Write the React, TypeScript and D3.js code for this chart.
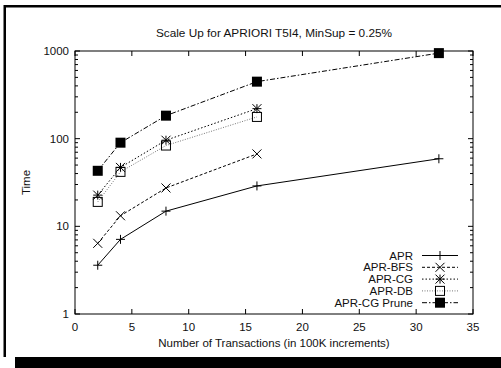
import React from 'react';
import * as d3 from 'd3';

const width = 501;
const height = 368;
const margin = { top: 51, right: 28, bottom: 54, left: 75 };

// x positions (100K transactions)
const transactions = [2, 4, 8, 16, 32];

// series values
const apr = [3.6, 7.1, 14.9, 28.9, 59];
const aprBfs = [6.4, 13.2, 27.4, 67];
const aprCg = [22.7, 47, 96, 220];
const aprDb = [19, 41.8, 83.5, 177];
const aprCgPrune = [43, 90, 183, 447, 946];

const seriesNames = ['APR', 'APR-BFS', 'APR-CG', 'APR-DB', 'APR-CG Prune'];
const xTicks = [0, 5, 10, 15, 20, 25, 30, 35];
const yTicks = [1, 10, 100, 1000];

const font = '"Liberation Sans", Arial, Helvetica, sans-serif';

const series = [
	{ name: seriesNames[0], values: apr, dash: null, color: '#000', marker: 'plus' },
	{ name: seriesNames[1], values: aprBfs, dash: '3,2', color: '#000', marker: 'cross' },
	{ name: seriesNames[2], values: aprCg, dash: '1.5,2', color: '#000', marker: 'star' },
	{ name: seriesNames[3], values: aprDb, dash: '1,1.5', color: '#777', marker: 'box' },
	{ name: seriesNames[4], values: aprCgPrune, dash: '5,2,1.5,2', color: '#000', marker: 'fbox' }
];

const xScale = d3
	.scaleLinear()
	.domain([0, 35])
	.range([margin.left, width - margin.right]);

const yScale = d3
	.scaleLog()
	.domain([1, 1000])
	.range([height - margin.bottom, margin.top]);

function Marker({ type, x, y }) {
	const s = 4.5;
	if (type === 'plus') {
		return <path d={`M${x - s},${y}H${x + s}M${x},${y - s}V${y + s}`} stroke="#000" strokeWidth={1} />;
	}
	if (type === 'cross') {
		return <path d={`M${x - s},${y - s}L${x + s},${y + s}M${x - s},${y + s}L${x + s},${y - s}`} stroke="#000" strokeWidth={1} />;
	}
	if (type === 'star') {
		return (
			<path
				d={`M${x - s},${y}H${x + s}M${x},${y - s}V${y + s}M${x - s},${y - s}L${x + s},${y + s}M${x - s},${y + s}L${x + s},${y - s}`}
				stroke="#000"
				strokeWidth={1}
			/>
		);
	}
	if (type === 'box') {
		return <rect x={x - s} y={y - s} width={2 * s} height={2 * s} fill="none" stroke="#000" strokeWidth={1} />;
	}
	return <rect x={x - 5} y={y - 5} width={10} height={10} fill="#000" />;
}

export default function App() {
	const [y0, y1] = yScale.range();
	const [x0, x1] = xScale.range();

	const line = d3
		.line()
		.x(d => xScale(d[0]))
		.y(d => yScale(d[1]));

	const minorTicks = [];
	[1, 10, 100].forEach(base => {
		for (let i = 2; i <= 9; i++) minorTicks.push(base * i);
	});

	const legendX = 413;
	const legendY0 = 255.5;
	const legendStep = 11.8;

	return (
		<svg
			width={width}
			height={height}
			style={{ position: 'absolute', left: 0, top: 0, background: '#fff' }}
			fontFamily={font}
			fill="#000"
		>
			{/* outer frame with shadow */}
			<path d={`M4.75,357V6.25H${width}`} fill="none" stroke="#000" strokeWidth={2.5} />
			<rect x={15} y={357} width={width - 15} height={11} fill="#000" />

			<text x={(x0 + x1) / 2} y={37} fontSize={11.8} textAnchor="middle" fill="#111">
				Scale Up for APRIORI T5I4, MinSup = 0.25%
			</text>

			{/* ticks */}
			{xTicks.map(t => (
				<g key={'x' + t}>
					<line x1={xScale(t)} x2={xScale(t)} y1={y0} y2={y0 - 5} stroke="#000" />
					<line x1={xScale(t)} x2={xScale(t)} y1={y1} y2={y1 + 5} stroke="#000" />
					<text x={xScale(t)} y={331} fontSize={11.5} textAnchor="middle" fill="#111">
						{t}
					</text>
				</g>
			))}
			{yTicks.map(t => (
				<g key={'y' + t}>
					<line x1={x0} x2={x0 + 5} y1={yScale(t)} y2={yScale(t)} stroke="#000" />
					<line x1={x1} x2={x1 - 5} y1={yScale(t)} y2={yScale(t)} stroke="#000" />
					<text x={69} y={yScale(t) + 4} fontSize={11.5} textAnchor="end" fill="#111">
						{t}
					</text>
				</g>
			))}
			{minorTicks.map(t => (
				<g key={'m' + t}>
					<line x1={x0} x2={x0 + 3} y1={yScale(t)} y2={yScale(t)} stroke="#000" />
					<line x1={x1} x2={x1 - 3} y1={yScale(t)} y2={yScale(t)} stroke="#000" />
				</g>
			))}

			<rect x={x0} y={y1} width={x1 - x0} height={y0 - y1} fill="none" stroke="#000" strokeWidth={1} />

			<text
				transform={`translate(30,${(y0 + y1) / 2}) rotate(-90)`}
				fontSize={11.5}
				textAnchor="middle"
				fill="#111"
			>
				Time
			</text>
			<text x={(x0 + x1) / 2} y={347} fontSize={11.5} textAnchor="middle" fill="#111">
				Number of Transactions (in 100K increments)
			</text>

			{/* series */}
			{series.map(s => {
				const pts = s.values.map((v, i) => [transactions[i], v]);
				return (
					<g key={s.name}>
						<path d={line(pts)} fill="none" stroke={s.color} strokeWidth={1} strokeDasharray={s.dash || undefined} />
						{pts.map((p, i) => (
							<Marker key={i} type={s.marker} x={xScale(p[0])} y={yScale(p[1])} />
						))}
					</g>
				);
			})}

			{/* legend */}
			{series.map((s, i) => {
				const ly = legendY0 + i * legendStep;
				return (
					<g key={'l' + s.name}>
						<text x={legendX} y={ly + 4} fontSize={11.5} textAnchor="end" fill="#111">
							{s.name}
						</text>
						<line
							x1={422}
							x2={458}
							y1={ly}
							y2={ly}
							stroke={s.color}
							strokeWidth={1}
							strokeDasharray={s.dash || undefined}
						/>
						<Marker type={s.marker} x={440} y={ly} />
					</g>
				);
			})}
		</svg>
	);
}
